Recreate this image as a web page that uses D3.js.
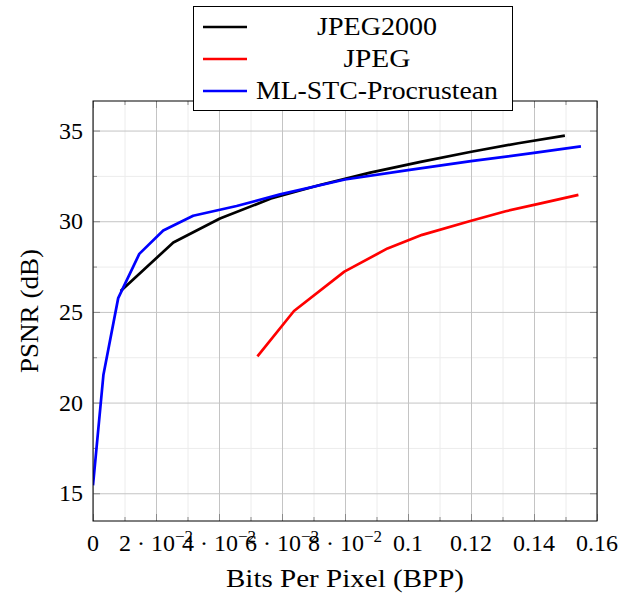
<!DOCTYPE html>
<html>
<head>
<meta charset="utf-8">
<script src="https://cdn.jsdelivr.net/npm/d3@7/dist/d3.min.js"></script>
<style>
  html, body { margin: 0; padding: 0; background: #fff; }
  svg text { font-family: "Liberation Serif", "Times New Roman", serif; fill: #000; }
</style>
</head>
<body>
<svg id="chart" width="622" height="596"></svg>
<script>
// Rate–distortion curves: PSNR (dB) versus bits per pixel
const seriesNames = ["JPEG2000", "JPEG", "ML-STC-Procrustean"];
const seriesColors = ["#000000", "#ff0000", "#0000ff"];

const jpeg2000Bpp  = [0.0088, 0.0255, 0.0403, 0.0565, 0.072, 0.088, 0.104, 0.1197, 0.135, 0.1498];
const jpeg2000Psnr = [26.15, 28.83, 30.15, 31.25, 32.0, 32.68, 33.27, 33.82, 34.3, 34.72];

const jpegBpp  = [0.0522, 0.0638, 0.0798, 0.0935, 0.1045, 0.1195, 0.131, 0.1425, 0.1541];
const jpegPsnr = [22.55, 25.05, 27.22, 28.5, 29.25, 30.0, 30.55, 31.0, 31.45];

const mlstcBpp  = [0, 0.0033, 0.008, 0.0147, 0.0223, 0.0318, 0.0456, 0.0594, 0.08, 0.1, 0.12, 0.14, 0.1549];
const mlstcPsnr = [15.44, 21.52, 25.76, 28.2, 29.49, 30.3, 30.84, 31.48, 32.3, 32.82, 33.31, 33.77, 34.13];

const xMajorTicks = [0, 0.02, 0.04, 0.06, 0.08, 0.1, 0.12, 0.14, 0.16];
const xTickLabels = [["0"], ["2 · 10", "−2"], ["4 · 10", "−2"], ["6 · 10", "−2"], ["8 · 10", "−2"], ["0.1"], ["0.12"], ["0.14"], ["0.16"]];
const xMinorTicks = [0.01, 0.03, 0.05, 0.07, 0.09, 0.11, 0.13, 0.15];
const yMajorTicks = [15, 20, 25, 30, 35];
const yMinorTicks = [17.5, 22.5, 27.5, 32.5];

const series = [
  { name: seriesNames[0], color: seriesColors[0], x: jpeg2000Bpp, y: jpeg2000Psnr },
  { name: seriesNames[1], color: seriesColors[1], x: jpegBpp, y: jpegPsnr },
  { name: seriesNames[2], color: seriesColors[2], x: mlstcBpp, y: mlstcPsnr }
];

const svg = d3.select("#chart");
const plotLeft = 93, plotRight = 597, plotTop = 101, plotBottom = 521;

const x = d3.scaleLinear().domain([0, 0.16]).range([plotLeft, plotRight]);
const y = d3.scaleLinear().domain([13.47, 36.63]).range([plotBottom, plotTop]);

const plotW = plotRight - plotLeft, plotH = plotBottom - plotTop;

// grid: minor first, then major
const grid = svg.append("g");
function gridLines(axisFn, pos, values, size, color) {
  grid.append("g")
    .attr("transform", pos)
    .call(axisFn.tickValues(values).tickSize(size).tickFormat(""))
    .call(g => g.select(".domain").remove())
    .call(g => g.selectAll("line").attr("stroke", color).attr("stroke-width", 1));
}
gridLines(d3.axisBottom(x), `translate(0,${plotBottom})`, xMinorTicks, -plotH, "#ececec");
gridLines(d3.axisLeft(y), `translate(${plotLeft},0)`, yMinorTicks, -plotW, "#ececec");
gridLines(d3.axisBottom(x), `translate(0,${plotBottom})`, xMajorTicks, -plotH, "#c4c4c4");
gridLines(d3.axisLeft(y), `translate(${plotLeft},0)`, yMajorTicks, -plotW, "#c4c4c4");

// inward tick marks on all four sides
const tickColor = "#8a8a8a";
function ticks(axisFn, pos, values, size) {
  svg.append("g")
    .attr("transform", pos)
    .call(axisFn.tickValues(values).tickSize(size).tickFormat(""))
    .call(g => g.select(".domain").remove())
    .call(g => g.selectAll("line").attr("stroke", tickColor).attr("stroke-width", 1));
}
ticks(d3.axisBottom(x), `translate(0,${plotBottom})`, xMajorTicks, -7);
ticks(d3.axisBottom(x), `translate(0,${plotBottom})`, xMinorTicks, -4);
ticks(d3.axisTop(x), `translate(0,${plotTop})`, xMajorTicks, -7);
ticks(d3.axisTop(x), `translate(0,${plotTop})`, xMinorTicks, -4);
ticks(d3.axisLeft(y), `translate(${plotLeft},0)`, yMajorTicks, -7);
ticks(d3.axisLeft(y), `translate(${plotLeft},0)`, yMinorTicks, -4);
ticks(d3.axisRight(y), `translate(${plotRight},0)`, yMajorTicks, -7);
ticks(d3.axisRight(y), `translate(${plotRight},0)`, yMinorTicks, -4);

// curves
svg.append("clipPath").attr("id", "plotclip")
  .append("rect").attr("x", plotLeft).attr("y", plotTop).attr("width", plotW).attr("height", plotH);
const line = d3.line().x(d => x(d[0])).y(d => y(d[1]));
svg.append("g").attr("clip-path", "url(#plotclip)")
  .selectAll("path")
  .data(series)
  .join("path")
  .attr("d", s => line(d3.zip(s.x, s.y)))
  .attr("fill", "none")
  .attr("stroke", s => s.color)
  .attr("stroke-width", 2.7)
  .attr("stroke-linejoin", "round");

// frame
svg.append("rect")
  .attr("x", plotLeft).attr("y", plotTop).attr("width", plotW).attr("height", plotH)
  .attr("fill", "none").attr("stroke", "#000").attr("stroke-width", 1);

// x tick labels (scientific notation with superscript exponent)
const xl = svg.append("g");
xMajorTicks.forEach((v, i) => {
  const parts = xTickLabels[i];
  const t = xl.append("text")
    .attr("x", x(v)).attr("y", 551)
    .attr("text-anchor", "middle")
    .attr("font-size", 24);
  t.append("tspan").text(parts[0]);
  if (parts[1]) {
    t.append("tspan").attr("dy", -9).attr("font-size", 17).text(parts[1]);
  }
});

// y tick labels
svg.append("g")
  .selectAll("text")
  .data(yMajorTicks)
  .join("text")
  .attr("x", plotLeft - 10)
  .attr("y", d => y(d) + 8)
  .attr("text-anchor", "end")
  .attr("font-size", 24)
  .text(d => d);

// axis titles
svg.append("text")
  .attr("x", (plotLeft + plotRight) / 2).attr("y", 587)
  .attr("text-anchor", "middle").attr("font-size", 25)
  .attr("textLength", 238).attr("lengthAdjust", "spacingAndGlyphs")
  .text("Bits Per Pixel (BPP)");
svg.append("text")
  .attr("transform", `translate(38,${(plotTop + plotBottom) / 2}) rotate(-90)`)
  .attr("text-anchor", "middle").attr("font-size", 25)
  .attr("textLength", 124).attr("lengthAdjust", "spacingAndGlyphs")
  .text("PSNR (dB)");

// legend
const legend = svg.append("g");
legend.append("rect")
  .attr("x", 193.5).attr("y", 6.5).attr("width", 319).attr("height", 104)
  .attr("fill", "#fff").attr("stroke", "#000").attr("stroke-width", 1);
const legendWidths = [120, 67, 242];
series.forEach((s, i) => {
  const cy = 27 + i * 32;
  legend.append("line")
    .attr("x1", 203).attr("x2", 247).attr("y1", cy).attr("y2", cy)
    .attr("stroke", s.color).attr("stroke-width", 2.7);
  legend.append("text")
    .attr("x", 377).attr("y", cy + 8)
    .attr("text-anchor", "middle").attr("font-size", 25)
    .attr("textLength", legendWidths[i]).attr("lengthAdjust", "spacingAndGlyphs")
    .text(s.name);
});
</script>
</body>
</html>
